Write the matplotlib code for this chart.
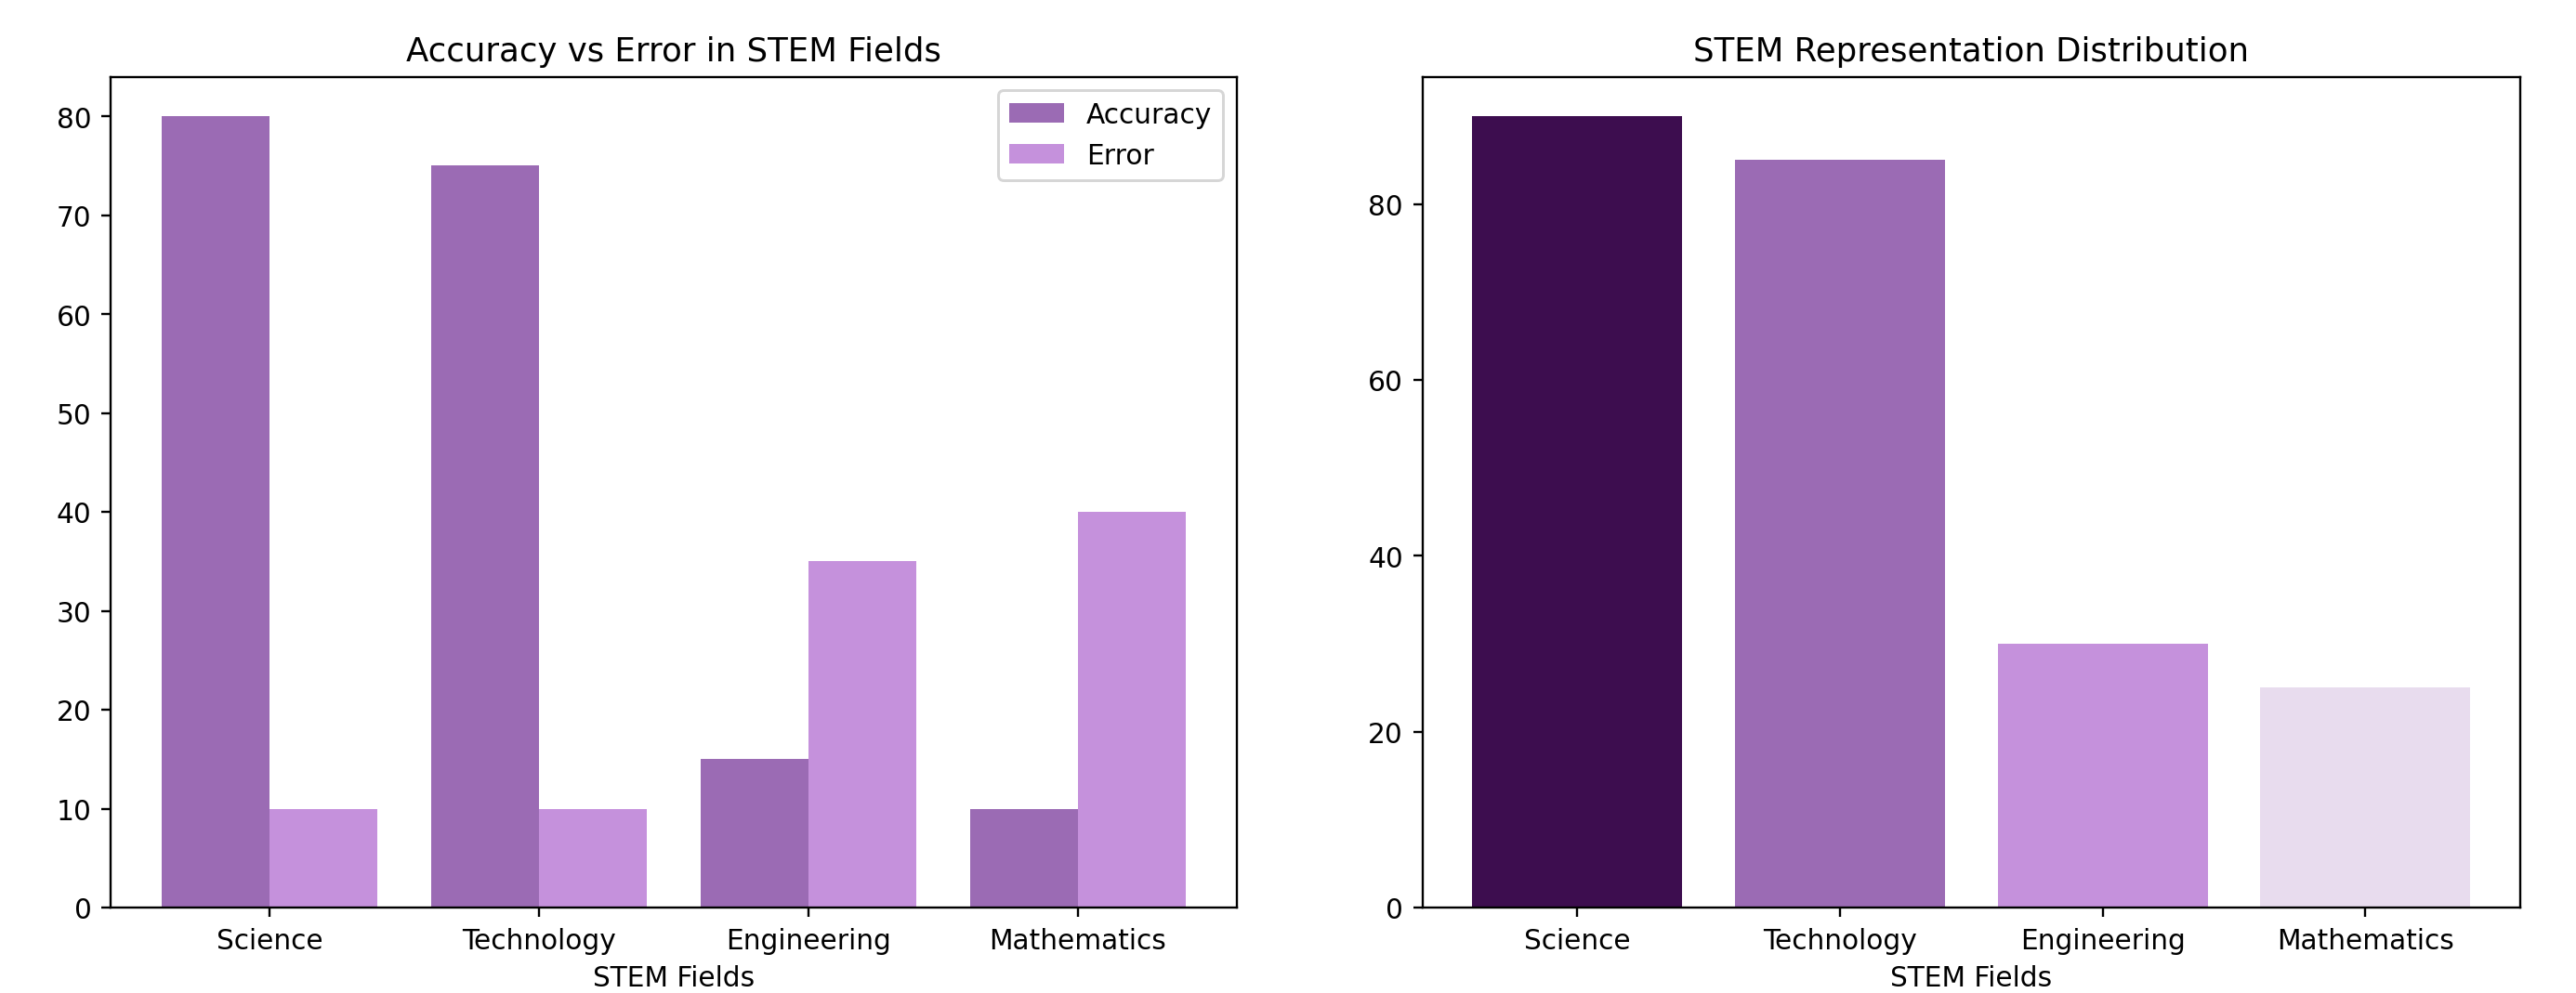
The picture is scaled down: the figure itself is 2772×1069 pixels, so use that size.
import numpy as np
import matplotlib
matplotlib.use("Agg")
import matplotlib.pyplot as plt

fields = ["Science", "Technology", "Engineering", "Mathematics"]
accuracy = [80, 75, 15, 10]
error = [10, 10, 35, 40]
representation = [90, 85, 30, 25]

acc_color = "#9b6bb4"
err_color = "#c591dc"
rep_colors = ["#3d0d4f", "#9b6bb4", "#c591dc", "#e8dcee"]

fig = plt.figure(figsize=(13, 5.016), dpi=213.3)
ax1 = fig.add_axes([0.043, 0.086, 0.437, 0.836])
ax2 = fig.add_axes([0.552, 0.086, 0.426, 0.836])

x = np.arange(len(fields))
w = 0.4
ax1.bar(x - w / 2, accuracy, w, color=acc_color, label="Accuracy")
ax1.bar(x + w / 2, error, w, color=err_color, label="Error")
ax1.set_xticks(x)
ax1.set_xticklabels(fields)
ax1.set_xlabel("STEM Fields")
ax1.set_title("Accuracy vs Error in STEM Fields")
ax1.legend(loc="upper right")

ax2.bar(fields, representation, color=rep_colors)
ax2.set_xlabel("STEM Fields")
ax2.set_title("STEM Representation Distribution")

fig.savefig("out.png", dpi=213.3)
